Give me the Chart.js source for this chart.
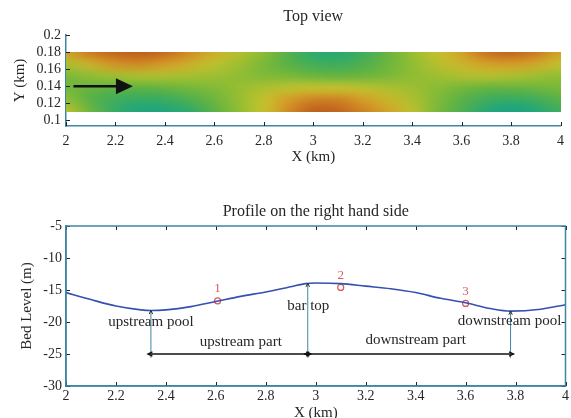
<!DOCTYPE html>
<html>
<head>
<meta charset="utf-8">
<script src="https://cdn.jsdelivr.net/npm/chart.js@4.4.1/dist/chart.umd.min.js"></script>
<style>
  html, body { margin: 0; padding: 0; background: #fff; }
  #wrap { position: relative; width: 571px; height: 418px; overflow: hidden; }
  #top-chart { position: absolute; left: 0; top: 0; }
  #profile-chart { position: absolute; left: 0; top: 188px; }
</style>
</head>
<body>
<div id="wrap">
  <canvas id="top-chart" width="571" height="170"></canvas>
  <canvas id="profile-chart" width="571" height="236"></canvas>
</div>
<script>
// ---- data ----
const xTicks      = [2, 2.2, 2.4, 2.6, 2.8, 3, 3.2, 3.4, 3.6, 3.8, 4];
const xTickLabels = ['2', '2.2', '2.4', '2.6', '2.8', '3', '3.2', '3.4', '3.6', '3.8', '4'];
const topYTicks   = [0.1, 0.12, 0.14, 0.16, 0.18, 0.2];
const topYLabels  = ['0.1', '0.12', '0.14', '0.16', '0.18', '0.2'];
const bedYTicks   = [-30, -25, -20, -15, -10, -5];
const bedYLabels  = ['-30', '-25', '-20', '-15', '-10', '-5'];

// top view: bed level (m) sampled on a grid
const heatX = [2.0, 2.1, 2.2, 2.3, 2.4, 2.5, 2.6, 2.7, 2.8, 2.9, 3.0,
               3.1, 3.2, 3.3, 3.4, 3.5, 3.6, 3.7, 3.8, 3.9, 4.0];
const heatY = [0.18, 0.166, 0.152, 0.138, 0.124, 0.11];
const bedRow018 = [-14.8, -14.3, -14.0, -13.9, -14.1, -14.5, -15.0, -15.5, -16.1, -16.9, -17.6,
                   -17.8, -17.3, -16.6, -15.9, -15.3, -14.8, -14.2, -14.0, -14.3, -14.8];
const bedRow0166 = [-15.6, -15.0, -14.6, -14.5, -14.7, -15.0, -15.4, -15.8, -16.3, -16.8, -17.2,
                    -17.3, -17.0, -16.5, -16.0, -15.5, -15.1, -14.8, -14.7, -14.9, -15.3];
const bedRow0152 = [-16.3, -16.0, -15.8, -15.6, -15.6, -15.7, -15.8, -16.0, -16.2, -16.3, -16.5,
                    -16.6, -16.5, -16.3, -16.0, -15.8, -15.6, -15.5, -15.6, -15.8, -16.0];
const bedRow0138 = [-16.4, -16.6, -16.7, -16.7, -16.6, -16.4, -16.2, -15.9, -15.6, -15.4, -15.3,
                    -15.3, -15.4, -15.6, -15.8, -16.1, -16.4, -16.6, -16.6, -16.5, -16.3];
const bedRow0124 = [-16.0, -16.8, -17.3, -17.5, -17.4, -17.0, -16.5, -15.9, -15.3, -14.7, -14.4,
                    -14.4, -14.7, -15.1, -15.6, -16.2, -16.8, -17.3, -17.5, -17.3, -16.8];
const bedRow011 = [-15.4, -16.5, -17.5, -18.1, -18.1, -17.6, -16.8, -16.0, -15.3, -14.5, -13.9,
                   -14.0, -14.4, -14.8, -15.4, -16.3, -17.0, -17.9, -18.3, -18.0, -17.3];
const heatZ = [bedRow018, bedRow0166, bedRow0152, bedRow0138, bedRow0124, bedRow011];

// flow direction arrow
const flowX = [2.03, 2.21];
const flowY = 0.14;

// profile on the right hand side
const profileX = [2.0, 2.1, 2.2, 2.3, 2.34, 2.4, 2.5, 2.6, 2.7, 2.8, 2.9, 2.96, 3.0,
                  3.1, 3.2, 3.3, 3.4, 3.5, 3.6, 3.7, 3.78, 3.9, 4.0];
const profileY = [-15.4, -16.5, -17.5, -18.1, -18.2, -18.1, -17.6, -16.8, -16.0, -15.3, -14.5, -14.0, -13.9,
                  -14.0, -14.4, -14.8, -15.4, -16.3, -17.0, -17.9, -18.3, -18.0, -17.3];

// numbered points
const markX = [2.607, 3.1, 3.6];
const markY = [-16.7, -14.6, -17.1];
const markLabels = ['1', '2', '3'];

// pool / bar top guides and part arrows
const guideX   = [2.34, 2.968, 3.78];
const guideTop = [-18.2, -13.95, -18.3];
const partY    = -25;
const noteText = ['upstream pool', 'bar top', 'downstream pool', 'upstream part', 'downstream part'];
const noteX    = [2.34, 2.97, 3.776, 2.70, 3.40];
const noteY    = [-19.95, -17.5, -19.8, -23.1, -22.8];

// ---- styling ----
const fontFam   = "'Liberation Serif', 'Times New Roman', serif";
const axisColor = '#3f86a3';
const textColor = '#262626';
Chart.defaults.font.family = fontFam;
Chart.defaults.color = textColor;

const colorStops = [
  [-18.5, [22, 160, 140]],
  [-17.6, [45, 170, 108]],
  [-16.7, [95, 178, 66]],
  [-15.9, [150, 190, 50]],
  [-15.3, [196, 192, 45]],
  [-14.7, [212, 155, 40]],
  [-14.2, [200, 112, 32]],
  [-13.7, [180, 82, 26]],
];

function bedColor(v) {
  if (v <= colorStops[0][0]) return colorStops[0][1];
  for (let i = 1; i < colorStops.length; i++) {
    const [v1, c1] = colorStops[i];
    const [v0, c0] = colorStops[i - 1];
    if (v <= v1) {
      const t = (v - v0) / (v1 - v0);
      return c0.map((c, k) => Math.round(c + (c1[k] - c) * t));
    }
  }
  return colorStops[colorStops.length - 1][1];
}

const heatmap = {
  id: 'heatmap',
  beforeDatasetsDraw(chart) {
    const { ctx, scales: { x, y } } = chart;
    const cols = heatX.length, rows = heatY.length;
    const off = document.createElement('canvas');
    off.width = cols; off.height = rows;
    const octx = off.getContext('2d');
    const img = octx.createImageData(cols, rows);
    heatZ.forEach((row, j) => row.forEach((v, i) => {
      const c = bedColor(v), k = (j * cols + i) * 4;
      img.data[k] = c[0]; img.data[k + 1] = c[1]; img.data[k + 2] = c[2]; img.data[k + 3] = 255;
    }));
    octx.putImageData(img, 0, 0);
    const x0 = x.getPixelForValue(heatX[0]), x1 = x.getPixelForValue(heatX[cols - 1]);
    const y0 = y.getPixelForValue(heatY[0]), y1 = y.getPixelForValue(heatY[rows - 1]);
    ctx.save();
    ctx.imageSmoothingEnabled = true;
    ctx.imageSmoothingQuality = 'high';
    ctx.drawImage(off, 0.5, 0.5, cols - 1, rows - 1, x0, y0, x1 - x0, y1 - y0);
    ctx.restore();
  }
};

// panel title, centred over the plot box like matlab does
const panelTitle = {
  id: 'panelTitle',
  afterDraw(chart, args, opts) {
    const { ctx, chartArea: a } = chart;
    ctx.save();
    ctx.fillStyle = textColor;
    ctx.font = '16px ' + fontFam;
    ctx.textAlign = 'center';
    ctx.textBaseline = 'middle';
    ctx.fillText(opts.text, (a.left + a.right) / 2, a.top - opts.gap);
    ctx.restore();
  }
};

function head(ctx, px, py, ang, size, filled) {
  const a1 = ang + Math.PI - 0.45, a2 = ang + Math.PI + 0.45;
  ctx.beginPath();
  ctx.moveTo(px + size * Math.cos(a1), py + size * Math.sin(a1));
  ctx.lineTo(px, py);
  ctx.lineTo(px + size * Math.cos(a2), py + size * Math.sin(a2));
  if (filled) { ctx.closePath(); ctx.fill(); } else { ctx.stroke(); }
}

const flowHead = {
  id: 'flowHead',
  afterDatasetsDraw(chart) {
    const { ctx, scales: { x, y } } = chart;
    const bx = x.getPixelForValue(flowX[1]) - 2, py = y.getPixelForValue(flowY);
    ctx.save();
    ctx.fillStyle = '#111';
    ctx.beginPath();
    ctx.moveTo(bx, py - 8);
    ctx.lineTo(bx + 17, py);
    ctx.lineTo(bx, py + 8);
    ctx.closePath();
    ctx.fill();
    ctx.restore();
  }
};

// inward tick marks (matlab style)
const inTicks = {
  id: 'inTicks',
  afterDraw(chart, args, opts) {
    const { ctx, chartArea: a, scales: { x, y } } = chart;
    const L = opts.len || 4;
    ctx.save();
    ctx.lineWidth = 1;
    ctx.strokeStyle = opts.color;
    ctx.beginPath();
    x.ticks.forEach(t => {
      const p = Math.round(x.getPixelForValue(t.value)) + 0.5;
      if (opts.sides.includes('bottom')) { ctx.moveTo(p, a.bottom); ctx.lineTo(p, a.bottom - L); }
      if (opts.sides.includes('top'))    { ctx.moveTo(p, a.top);    ctx.lineTo(p, a.top + L); }
    });
    y.ticks.forEach(t => {
      const p = Math.round(y.getPixelForValue(t.value)) + 0.5;
      if (opts.sides.includes('left'))  { ctx.moveTo(a.left, p);  ctx.lineTo(a.left + L, p); }
      if (opts.sides.includes('right')) { ctx.moveTo(a.right, p); ctx.lineTo(a.right - L, p); }
    });
    ctx.stroke();
    if (opts.box) {
      ctx.strokeStyle = axisColor;
      ctx.lineWidth = 1.5;
      ctx.strokeRect(a.left, a.top, a.right - a.left, a.bottom - a.top);
    }
    ctx.restore();
  }
};

const notes = {
  id: 'notes',
  afterDatasetsDraw(chart) {
    const { ctx, scales: { x, y } } = chart;
    ctx.save();
    // vertical guides from the bed down to the part arrows
    ctx.strokeStyle = axisColor;
    ctx.lineWidth = 1;
    guideX.forEach((gx, i) => {
      const px = x.getPixelForValue(gx);
      ctx.beginPath();
      ctx.moveTo(px, y.getPixelForValue(guideTop[i]));
      ctx.lineTo(px, y.getPixelForValue(partY - 0.6));
      ctx.stroke();
      ctx.strokeStyle = '#222';
      head(ctx, px, y.getPixelForValue(guideTop[i]), -Math.PI / 2, 4, false);
      ctx.strokeStyle = axisColor;
    });
    // double arrows along the parts
    ctx.strokeStyle = '#111';
    ctx.lineWidth = 1.3;
    const py = y.getPixelForValue(partY);
    for (let i = 0; i < guideX.length - 1; i++) {
      const xa = x.getPixelForValue(guideX[i]), xb = x.getPixelForValue(guideX[i + 1]);
      ctx.beginPath();
      ctx.moveTo(xa - 3, py);
      ctx.lineTo(xb + 3, py);
      ctx.stroke();
      head(ctx, xa - 3, py, Math.PI, 5, false);
      head(ctx, xb + 3, py, 0, 5, false);
    }
    // text notes
    ctx.fillStyle = textColor;
    ctx.font = '15px ' + fontFam;
    ctx.textAlign = 'center';
    ctx.textBaseline = 'middle';
    noteText.forEach((t, i) => {
      ctx.fillText(t, x.getPixelForValue(noteX[i]), y.getPixelForValue(noteY[i]));
    });
    // point numbers
    ctx.fillStyle = '#d65a5a';
    ctx.font = '13px ' + fontFam;
    markLabels.forEach((t, i) => {
      ctx.fillText(t, x.getPixelForValue(markX[i]), y.getPixelForValue(markY[i]) - 12);
    });
    ctx.restore();
  }
};

function xAxis(height, tickPad, titlePad) {
  return {
    type: 'linear', min: 2, max: 4,
    afterBuildTicks: s => { s.ticks = xTicks.map(v => ({ value: v })); },
    afterFit: s => { s.height = height; },
    grid: { display: false, drawTicks: false },
    border: { display: true, color: axisColor, width: 1.5 },
    ticks: {
      autoSkip: false, maxRotation: 0, padding: tickPad, color: textColor,
      font: { size: 14, family: fontFam },
      callback: v => xTickLabels[xTicks.indexOf(v)]
    },
    title: { display: true, text: 'X (km)', color: textColor, font: { size: 15, family: fontFam },
             padding: { top: 0, bottom: titlePad } }
  };
}

// ---- top view ----
new Chart(document.getElementById('top-chart'), {
  type: 'scatter',
  data: {
    datasets: [{
      data: flowX.map(v => ({ x: v, y: flowY })),
      showLine: true, borderColor: '#111', borderWidth: 2.5, pointRadius: 0
    }]
  },
  options: {
    responsive: false, animation: false,
    layout: { padding: { left: 0, right: 6, top: 35, bottom: 0 } },
    plugins: {
      legend: { display: false }, tooltip: { enabled: false },
      title: { display: false },
      panelTitle: { text: 'Top view', gap: 18 },
      inTicks: { sides: ['bottom', 'left'], color: '#222', len: 4 }
    },
    scales: {
      x: xAxis(44, 7, 4),
      y: {
        type: 'linear', min: 0.0935, max: 0.2,
        afterBuildTicks: s => { s.ticks = topYTicks.map(v => ({ value: v })); },
        afterFit: s => { s.width = 66; },
        grid: { display: false, drawTicks: false },
        border: { display: true, color: axisColor, width: 1.5 },
        ticks: { autoSkip: false, padding: 5, color: textColor, font: { size: 14, family: fontFam },
                 callback: v => topYLabels[topYTicks.indexOf(v)] },
        title: { display: true, text: 'Y (km)', color: textColor, font: { size: 15, family: fontFam },
                 padding: { top: 11, bottom: 0 } }
      }
    }
  },
  plugins: [heatmap, flowHead, inTicks, panelTitle]
});

// ---- profile ----
new Chart(document.getElementById('profile-chart'), {
  type: 'scatter',
  data: {
    datasets: [{
      data: profileX.map((v, i) => ({ x: v, y: profileY[i] })),
      showLine: true, borderColor: '#3550b0', borderWidth: 1.6, pointRadius: 0,
      cubicInterpolationMode: 'monotone'
    }, {
      data: markX.map((v, i) => ({ x: v, y: markY[i] })),
      showLine: false, pointRadius: 3, pointBorderWidth: 1.2,
      pointBorderColor: '#d65a5a', pointBackgroundColor: 'rgba(255,255,255,0)'
    }]
  },
  options: {
    responsive: false, animation: false,
    layout: { padding: { left: 0, right: 5, top: 38, bottom: 0 } },
    plugins: {
      legend: { display: false }, tooltip: { enabled: false },
      title: { display: false },
      panelTitle: { text: 'Profile on the right hand side', gap: 14 },
      inTicks: { sides: ['bottom', 'top', 'left', 'right'], color: '#222', len: 4, box: true }
    },
    scales: {
      x: xAxis(38, 2, 2),
      y: {
        type: 'linear', min: -30, max: -5,
        afterBuildTicks: s => { s.ticks = bedYTicks.map(v => ({ value: v })); },
        afterFit: s => { s.width = 66; },
        grid: { display: false, drawTicks: false },
        border: { display: true, color: axisColor, width: 1.5 },
        ticks: { autoSkip: false, padding: 4, color: textColor, font: { size: 14, family: fontFam },
                 callback: v => bedYLabels[bedYTicks.indexOf(v)] },
        title: { display: true, text: 'Bed Level (m)', color: textColor, font: { size: 15, family: fontFam },
                 padding: { top: 18, bottom: 0 } }
      }
    }
  },
  plugins: [notes, inTicks, panelTitle]
});
</script>
</body>
</html>
